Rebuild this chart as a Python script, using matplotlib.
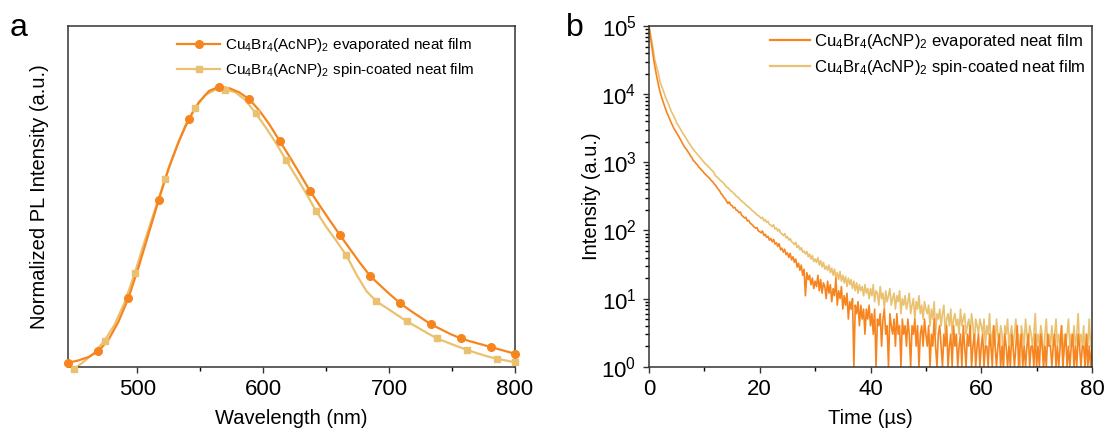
import matplotlib
matplotlib.use("Agg")
import matplotlib.pyplot as plt
import numpy as np
from matplotlib.lines import Line2D
from matplotlib.ticker import MultipleLocator, LogLocator, NullFormatter, NullLocator

plt.rcParams['font.family'] = ['Liberation Sans', 'DejaVu Sans']
plt.rcParams['mathtext.fontset'] = 'custom'
plt.rcParams['mathtext.rm'] = 'Liberation Sans'
plt.rcParams['mathtext.it'] = 'Liberation Sans:italic'

# colours
c_evap = '#F7851F'
c_spin = '#E9C170'

labels = [r'Cu$_\mathregular{4}$Br$_\mathregular{4}$(AcNP)$_\mathregular{2}$ evaporated neat film',
          r'Cu$_\mathregular{4}$Br$_\mathregular{4}$(AcNP)$_\mathregular{2}$ spin-coated neat film']

# (a) PL spectra, normalized
wl_evap = [445, 453, 461, 469, 477, 485, 493, 501, 509, 517, 525, 533, 541, 549, 557,
           565, 573, 581, 589, 597, 605, 613, 621, 629, 637, 645, 653, 661, 669, 677,
           685, 693, 701, 709, 717, 725, 733, 741, 749, 757, 765, 773, 781, 789, 797, 800]
pl_evap = [0.014, 0.022, 0.034, 0.055, 0.095, 0.16, 0.245, 0.355, 0.475, 0.595, 0.71, 0.805,
           0.885, 0.945, 0.985, 1.0, 0.995, 0.98, 0.955, 0.915, 0.865, 0.807, 0.75, 0.69,
           0.629, 0.575, 0.522, 0.470, 0.42, 0.37, 0.324, 0.29, 0.257, 0.226, 0.200, 0.176,
           0.152, 0.134, 0.116, 0.101, 0.090, 0.080, 0.070, 0.060, 0.050, 0.046]

wl_spin = [450, 458, 466, 474, 482, 490, 498, 506, 514, 522, 530, 538, 546, 554, 562,
           570, 578, 586, 594, 602, 610, 618, 626, 634, 642, 650, 658, 666, 674, 682,
           690, 698, 706, 714, 722, 730, 738, 746, 754, 762, 770, 778, 786, 794, 800]
pl_spin = [-0.008, 0.02, 0.05, 0.093, 0.15, 0.23, 0.334, 0.45, 0.56, 0.669, 0.77, 0.86,
           0.925, 0.97, 0.99, 0.99, 0.98, 0.952, 0.905, 0.855, 0.80, 0.739, 0.68, 0.62,
           0.556, 0.50, 0.45, 0.398, 0.33, 0.27, 0.233, 0.21, 0.186, 0.162, 0.142, 0.121,
           0.101, 0.087, 0.073, 0.060, 0.048, 0.037, 0.028, 0.021, 0.016]

# (b) transient PL decay counts, 0-80 us in 0.25 us channels
decay_evap = [
    100000, 70000, 50500, 36200, 27100, 20800, 16400, 13100, 10800, 9150,
    7950, 6880, 6010, 5320, 4790, 4280, 3820, 3460, 3140, 2910,
    2690, 2490, 2290, 2110, 1920, 1780, 1640, 1550, 1440, 1350,
    1240, 1170, 1060, 1020, 955, 915, 845, 815, 765, 735,
    690,
    660, 628, 602, 575, 538, 520, 482, 462, 430, 402,
    382, 348, 332, 305, 292, 270, 248, 262, 236, 232,
    214, 218, 198, 196, 182, 186, 166, 160, 152, 156,
    138, 140, 128, 124, 118, 112, 108, 110, 98, 96,
    92, 98, 84, 88, 79, 82, 72, 76, 68, 74,
    63, 66, 58, 64, 52, 55, 48, 53, 44, 47,
    40, 46, 37, 41, 34, 38, 29, 33, 26, 31,
    22, 27, 11, 24, 19, 22, 16, 20, 14, 18,
    15, 22, 13, 19, 12, 17, 15, 10, 18, 12,
    16, 9, 14, 11, 20, 8, 13, 10, 15, 7,
    11, 8, 12, 5, 9, 7, 10, 1, 8, 6,
    9, 4, 8, 5, 7, 3, 7, 5, 8, 4,
    6, 3, 7, 1, 5, 4, 6, 2, 5, 7,
    3, 4, 1, 6, 4, 3, 5, 2, 6, 3,
    4, 1, 5, 3, 4, 2, 5, 3, 1, 4,
    3, 5, 2, 4, 1, 3, 4, 2, 5, 3,
    2, 4, 1, 3, 2, 5, 2, 1, 3, 4,
    2, 1, 3, 2, 4, 1, 2, 3, 1, 4,
    2, 3, 1, 2, 3, 1, 4, 2, 1, 3,
    2, 4, 1, 2, 3, 1, 2, 3, 1, 2,
    3, 1, 2, 2, 1, 3, 2, 1, 4, 2,
    1, 2, 3, 1, 2, 1, 3, 2, 1, 2,
    1, 3, 2, 1, 2, 4, 1, 2, 3, 1,
    2, 1, 2, 3, 1, 2, 2, 1, 3, 1,
    2, 1, 3, 2, 1, 2, 1, 3, 2, 2,
    1, 2, 3, 1, 2, 1, 2, 4, 1, 2,
    3, 1, 2, 1, 2, 3, 1, 2, 1, 3,
    2, 1, 2, 2, 1, 3, 1, 2, 1, 2]

decay_spin = [
    100000, 78000, 60000, 46500, 33100, 27500, 23000, 19200, 15100, 13300,
    11800, 10300, 8900, 8000, 7200, 6400, 5620, 5150, 4700, 4250,
    3800, 3520, 3250, 3000, 2750, 2560, 2390, 2200, 2040, 1900,
    1780, 1650, 1550, 1460, 1380, 1300, 1230, 1160, 1100, 1040,
    980,
    935, 905, 850, 818, 770, 748, 700, 632, 612, 588,
    556, 532, 515, 490, 462, 436, 422, 404, 380, 372,
    350, 340, 318, 309, 298, 280, 270, 258, 250, 236,
    228, 219, 212, 200, 194, 185, 179, 168, 165, 158,
    150, 156, 138, 144, 131, 136, 122, 120, 114, 121,
    105, 109, 98, 104, 92, 89, 84, 90, 78, 81,
    72, 76, 68, 66, 62, 67, 56, 60, 52, 56,
    48, 50, 45, 49, 41, 45, 38, 43, 35, 38,
    34, 40, 31, 36, 29, 34, 27, 30, 26, 31,
    24, 28, 22, 27, 20, 24, 19, 25, 18, 22,
    17, 21, 15, 20, 16, 19, 14, 18, 13, 17,
    12, 16, 13, 15, 11, 16, 12, 14, 10, 14,
    11, 16, 9, 13, 12, 8, 15, 10, 12, 7,
    13, 9, 11, 14, 8, 10, 12, 7, 11, 9,
    13, 6, 10, 8, 11, 7, 9, 12, 6, 8,
    10, 5, 9, 7, 11, 6, 8, 5, 9, 7,
    6, 8, 4, 7, 5, 9, 3, 6, 5, 7,
    4, 6, 8, 3, 5, 6, 4, 7, 3, 5,
    6, 4, 5, 3, 7, 4, 5, 6, 3, 4,
    5, 3, 6, 4, 2, 5, 4, 3, 5, 4,
    3, 5, 2, 4, 3, 6, 2, 3, 4, 2,
    5, 3, 2, 4, 3, 1, 4, 3, 5, 2,
    3, 4, 2, 3, 5, 2, 3, 1, 4, 3,
    2, 5, 3, 2, 4, 3, 2, 3, 6, 2,
    3, 2, 4, 3, 1, 3, 5, 2, 3, 2,
    4, 2, 3, 5, 2, 3, 2, 4, 1, 3,
    2, 3, 5, 2, 3, 2, 4, 2, 3, 6,
    2, 3, 2, 4, 1, 3, 2, 5, 2, 3]

time_us = np.linspace(0, 80, len(decay_evap))

W, H = 1108, 437
fig = plt.figure(figsize=(W / 100, H / 100), dpi=100)
bottom = (H - 366.7) / H
height = (366.7 - 26) / H
ax_a = fig.add_axes([68 / W, bottom, (515 - 68) / W, height])
ax_b = fig.add_axes([649 / W, bottom, (1092 - 649) / W, height])

spine_c = '#333333'
for ax in (ax_a, ax_b):
    for s in ax.spines.values():
        s.set_color(spine_c)
        s.set_linewidth(1.1)
    ax.tick_params(colors=spine_c, labelcolor='black', labelsize=16, direction='out',
                   top=False, right=False, pad=5)
    ax.tick_params(which='major', length=4, width=1.0)
    ax.tick_params(which='minor', length=3, width=1.0)

# ---- panel a ----
mk_spin = list(range(0, 43, 3)) + [len(wl_spin) - 1]
mk_evap = list(range(0, 43, 3)) + [len(wl_evap) - 1]

ax_a.plot(wl_spin, pl_spin, color=c_spin, lw=1.6)
ax_a.plot([wl_spin[i] for i in mk_spin], [pl_spin[i] for i in mk_spin], ls='none',
          marker='s', ms=5, color=c_spin, clip_on=False, zorder=3)
ax_a.plot(wl_evap, pl_evap, color=c_evap, lw=1.6)
ax_a.plot([wl_evap[i] for i in mk_evap], [pl_evap[i] for i in mk_evap], ls='none',
          marker='o', ms=5.5, color=c_evap, clip_on=False, zorder=4)

ax_a.set_xlim(445, 800)
ax_a.set_ylim(0, 1.217)
ax_a.xaxis.set_major_locator(MultipleLocator(100))
ax_a.xaxis.set_minor_locator(MultipleLocator(50))
ax_a.yaxis.set_major_locator(NullLocator())
ax_a.set_xlabel('Wavelength (nm)', fontsize=14.5, labelpad=6)
ax_a.set_ylabel('Normalized PL Intensity (a.u.)', fontsize=14.5, labelpad=14)

h_a = [Line2D([], [], color=c_evap, lw=1.6, marker='o', ms=5.5),
       Line2D([], [], color=c_spin, lw=1.6, marker='s', ms=5)]
ax_a.legend(h_a, labels, loc='upper right', frameon=False, fontsize=11,
            handlelength=2.8, handletextpad=0.3, labelspacing=0.45,
            borderpad=0, borderaxespad=0,
            bbox_to_anchor=((474 - 68) / 447, 1 - 10 / 340.7))

# ---- panel b ----
ax_b.plot(time_us, decay_spin, color=c_spin, lw=1.2)
ax_b.plot(time_us, decay_evap, color=c_evap, lw=1.2)
ax_b.set_yscale('log')
ax_b.set_xlim(0, 80)
ax_b.set_ylim(1, 1e5)
ax_b.xaxis.set_major_locator(MultipleLocator(20))
ax_b.xaxis.set_minor_locator(MultipleLocator(10))
ax_b.yaxis.set_major_locator(LogLocator(base=10, numticks=10))
ax_b.yaxis.set_minor_locator(LogLocator(base=10, subs=np.arange(2, 10), numticks=20))
ax_b.yaxis.set_minor_formatter(NullFormatter())
ax_b.set_xlabel('Time (\u00b5s)', fontsize=14.5, labelpad=6)
ax_b.set_ylabel('Intensity (a.u.)', fontsize=14.5, labelpad=0)

h_b = [Line2D([], [], color=c_evap, lw=1.6), Line2D([], [], color=c_spin, lw=1.6)]
ax_b.legend(h_b, labels, loc='upper right', frameon=False, fontsize=12,
            handlelength=2.4, handletextpad=0.25, labelspacing=0.42,
            borderpad=0, borderaxespad=0,
            bbox_to_anchor=((1086 - 649) / 443, 1 - 6 / 340.7))

fig.text(10 / W, 1 - 36 / H, 'a', fontsize=23, va='baseline')
fig.text(566 / W, 1 - 36 / H, 'b', fontsize=23, va='baseline')

fig.savefig('out.png', dpi=100)
